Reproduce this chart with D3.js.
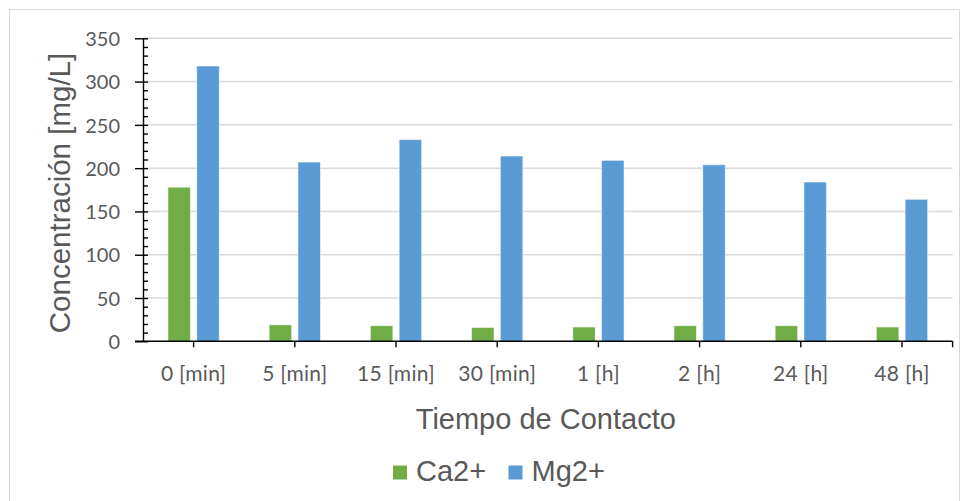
<!DOCTYPE html>
<html>
<head>
<meta charset="utf-8">
<script src="https://cdn.jsdelivr.net/npm/d3@7"></script>
<style>
  html, body { margin: 0; padding: 0; background: #fff; }
  svg { display: block; }
</style>
</head>
<body>
<svg id="chart" width="969" height="501"></svg>
<script>
// Contact time categories and ion concentrations (mg/L)
const categories = ["0 [min]", "5 [min]", "15 [min]", "30 [min]", "1 [h]", "2 [h]", "24 [h]", "48 [h]"];
const seriesNames = ["Ca2+", "Mg2+"];
const ca = [178, 19, 18, 16, 16.5, 18, 18, 16.5];
const mg = [318, 207, 233, 214, 209, 204, 184, 164];
const yTicks = [0, 50, 100, 150, 200, 250, 300, 350];
const yMinorTicks = d3.range(0, 351, 10);
const colors = ["#70AD47", "#5B9BD5"];

const svg = d3.select("#chart");
const plot = { left: 143, right: 952.6, top: 38.3, bottom: 341.3 };
const labelColor = "#595959";

// outer chart frame
svg.append("rect")
  .attr("x", 9.5).attr("y", 9.5)
  .attr("width", 950).attr("height", 520)
  .attr("fill", "#fff").attr("stroke", "#d9d9d9").attr("stroke-width", 1);

const x0 = d3.scaleBand().domain(categories).range([plot.left, plot.right]).padding(0);
const y = d3.scaleLinear().domain([0, 350]).range([plot.bottom, plot.top]);

// horizontal gridlines
svg.append("g").selectAll("line")
  .data(yTicks.filter(d => d > 0))
  .join("line")
  .attr("x1", plot.left).attr("x2", plot.right)
  .attr("y1", d => y(d)).attr("y2", d => y(d))
  .attr("stroke", "#d9d9d9").attr("stroke-width", 1.5);

// bars
const bw = x0.bandwidth();
const barW = bw * 0.2225;
const barGap = bw * 0.062;
const rows = categories.map((c, i) => ({ cat: c, vals: [ca[i], mg[i]] }));
const groups = svg.append("g").selectAll("g")
  .data(rows)
  .join("g")
  .attr("transform", d => `translate(${x0(d.cat) + bw / 2},0)`);
groups.selectAll("rect")
  .data(d => d.vals.map((v, k) => ({ v, k })))
  .join("rect")
  .attr("x", d => d.k === 0 ? -barGap / 2 - barW : barGap / 2)
  .attr("width", barW)
  .attr("y", d => y(d.v))
  .attr("height", d => y(0) - y(d.v))
  .attr("fill", d => colors[d.k])
  .attr("stroke", "#fff").attr("stroke-opacity", 0.55).attr("stroke-width", 1);

// y axis: major ticks with labels, minor ticks inside
const yAxis = d3.axisLeft(y).tickValues(yTicks).tickSizeInner(8).tickSizeOuter(0).tickPadding(15);
const gy = svg.append("g").attr("transform", `translate(${plot.left},0)`).call(yAxis);
gy.select(".domain").attr("stroke", "#000").attr("stroke-width", 1.4);
gy.selectAll(".tick line").attr("stroke", "#000").attr("stroke-width", 1.4);
gy.selectAll(".tick text")
  .attr("fill", labelColor)
  .style("font-family", "Lato, 'Open Sans', sans-serif")
  .style("font-size", "20px")
  .attr("dy", "0.36em");

const yMinor = d3.axisRight(y).tickValues(yMinorTicks).tickSize(5).tickFormat("");
const gym = svg.append("g").attr("transform", `translate(${plot.left},0)`).call(yMinor);
gym.select(".domain").remove();
gym.selectAll(".tick line").attr("stroke", "#000").attr("stroke-width", 1.4);

// x axis: ticks at category centres
const xAxis = d3.axisBottom(x0).tickSizeInner(6).tickSizeOuter(0).tickPadding(0);
const gx = svg.append("g").attr("transform", `translate(0,${plot.bottom})`).call(xAxis);
gx.select(".domain").attr("stroke", "#000").attr("stroke-width", 1.4)
  .attr("d", `M${plot.left - 8},0H${plot.right}`);
gx.selectAll(".tick line").attr("stroke", "#000").attr("stroke-width", 1.4);
gx.selectAll(".tick text")
  .attr("fill", labelColor)
  .style("font-family", "Lato, 'Open Sans', sans-serif")
  .style("font-size", "21px")
  .style("letter-spacing", "0.3px")
  .attr("y", 32).attr("dy", "0.35em");
gx.append("line")
  .attr("x1", x0.range()[1]).attr("x2", x0.range()[1])
  .attr("y1", 0).attr("y2", 6)
  .attr("stroke", "#000").attr("stroke-width", 1.4);

// axis titles
const titleFont = "'Liberation Sans', Arial, sans-serif";
svg.append("text")
  .attr("x", (plot.left + plot.right) / 2 - 2).attr("y", 429)
  .attr("text-anchor", "middle")
  .attr("fill", labelColor)
  .style("font-family", titleFont).style("font-size", "29px")
  .text("Tiempo de Contacto");

svg.append("text")
  .attr("transform", `translate(70,193) rotate(-90)`)
  .attr("text-anchor", "middle")
  .attr("fill", labelColor)
  .style("font-family", titleFont).style("font-size", "29.5px")
  .text("Concentración [mg/L]");

// legend
const legend = svg.append("g").attr("transform", "translate(393,465.5)");
const legendOffsets = [0, 115.5];
seriesNames.forEach((name, i) => {
  const g = legend.append("g").attr("transform", `translate(${legendOffsets[i]},0)`);
  g.append("rect").attr("width", 14).attr("height", 14).attr("fill", colors[i]);
  g.append("text")
    .attr("x", 23).attr("y", 15.5)
    .attr("fill", labelColor)
    .style("font-family", titleFont).style("font-size", "29px")
    .text(name);
});
</script>
</body>
</html>
